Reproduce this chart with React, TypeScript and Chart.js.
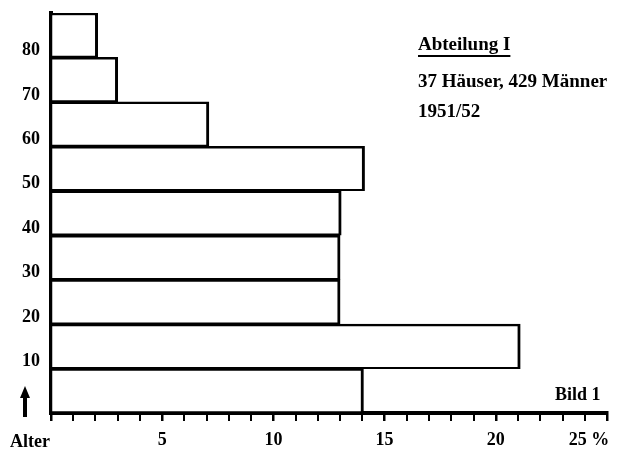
import React, { useEffect, useRef } from "react";
import { Chart, registerables } from "chart.js";

Chart.register(...registerables);

// Age groups (lower bound of each 10-year class) and share of men in percent
const ageClassStart = [0, 10, 20, 30, 40, 50, 60, 70, 80];
const shareOfMen = [14.05, 21.1, 13.0, 13.0, 13.05, 14.1, 7.1, 3.0, 2.1];
const yTickLabels = [10, 20, 30, 40, 50, 60, 70, 80];
const xTickLabels = [5, 10, 15, 20, 25];
const classWidth = 10;
const titleLines = ["Abteilung I", "37 Häuser, 429 Männer", "1951/52"];
const figureLabel = "Bild 1";
const axisTitle = "Alter";

const FONT = "'Liberation Serif', 'DejaVu Serif', serif";

const annotations = {
  id: "annotations",
  afterDraw(chart: any) {
    const { ctx, chartArea } = chart;
    const { left, right, top, bottom } = chartArea;
    ctx.save();
    ctx.fillStyle = "#000";
    ctx.strokeStyle = "#000";
    // title block
    ctx.textAlign = "left";
    ctx.textBaseline = "alphabetic";
    const tx = right - 189;
    ctx.font = `bold 19px ${FONT}`;
    ctx.fillText(titleLines[0], tx, top + 37);
    const w = ctx.measureText(titleLines[0]).width;
    ctx.lineWidth = 2;
    ctx.beginPath();
    ctx.moveTo(tx, top + 43);
    ctx.lineTo(tx + w, top + 43);
    ctx.stroke();
    ctx.fillText(titleLines[1], tx, top + 74);
    ctx.fillText(titleLines[2], tx, top + 104);
    // figure label
    ctx.font = `bold 18px ${FONT}`;
    ctx.fillText(figureLabel, right - 52, bottom - 13);
    // axis title and arrow
    ctx.textAlign = "center";
    ctx.textBaseline = "middle";
    ctx.font = `bold 18px ${FONT}`;
    ctx.fillText(axisTitle, left - 21, bottom + 29);
    const ax = left - 26;
    ctx.lineWidth = 4;
    ctx.beginPath();
    ctx.moveTo(ax, bottom + 4);
    ctx.lineTo(ax, bottom - 18);
    ctx.stroke();
    ctx.beginPath();
    ctx.moveTo(ax - 5, bottom - 15);
    ctx.lineTo(ax + 5, bottom - 15);
    ctx.lineTo(ax, bottom - 27);
    ctx.closePath();
    ctx.fill();
    ctx.restore();
  },
};

export default function App() {
  const ref = useRef<HTMLCanvasElement>(null);
  useEffect(() => {
    document.body.style.margin = "0";
    const canvas = ref.current!;
    const data = ageClassStart.map((a, i) => ({ y: a + classWidth / 2, x: shareOfMen[i] }));
    const chart = new Chart(canvas, {
      type: "bar",
      data: {
        datasets: [
          {
            data: data as any,
            backgroundColor: "#fff",
            borderColor: "#000",
            borderWidth: { top: 2.5, bottom: 2, right: 3, left: 0 } as any,
            borderSkipped: false,
            barPercentage: 1,
            categoryPercentage: 1,
            grouped: false,
          },
        ],
      },
      options: {
        indexAxis: "y",
        responsive: false,
        animation: false,
        events: [],
        layout: { padding: { top: 13, right: 13, left: 0, bottom: 0 } },
        plugins: { legend: { display: false }, tooltip: { enabled: false } },
        scales: {
          x: {
            type: "linear",
            min: 0,
            max: 25,
            grid: {
              drawOnChartArea: false,
              drawTicks: true,
              tickLength: 8,
              color: "#000",
              lineWidth: (c: any) => (c.tick && c.tick.value % 5 === 0 ? 2.5 : 2),
            },
            border: { display: true, color: "#000", width: 4 },
            ticks: {
              stepSize: 1,
              autoSkip: false,
              maxRotation: 0,
              padding: 9,
              color: "#000",
              font: { family: FONT, size: 18, weight: "bold" },
              callback: (v: any) => {
                if (!xTickLabels.includes(v)) return "";
                return v === 25 ? "25 %        " : String(v);
              },
            },
            afterFit: (s: any) => {
              s.height = 38;
              s.paddingLeft = 0;
              s.paddingRight = 0;
            },
          },
          y: {
            type: "linear",
            min: 0,
            max: 90,
            offset: false,
            grid: { display: false, drawTicks: false, offset: false },
            border: { display: true, color: "#000", width: 4 },
            ticks: {
              stepSize: 10,
              autoSkip: false,
              padding: 11,
              labelOffset: -7,
              color: "#000",
              font: { family: FONT, size: 18, weight: "bold" },
              callback: (v: any) => (yTickLabels.includes(v) ? String(v) : ""),
            },
            afterFit: (s: any) => {
              s.width = 51;
              s.paddingTop = 0;
              s.paddingBottom = 0;
            },
          },
        },
      },
      plugins: [annotations],
    });
    return () => chart.destroy();
  }, []);
  return (
    <div style={{ width: 620, height: 451 }}>
      <canvas ref={ref} width={620} height={451} style={{ display: "block" }} />
    </div>
  );
}
